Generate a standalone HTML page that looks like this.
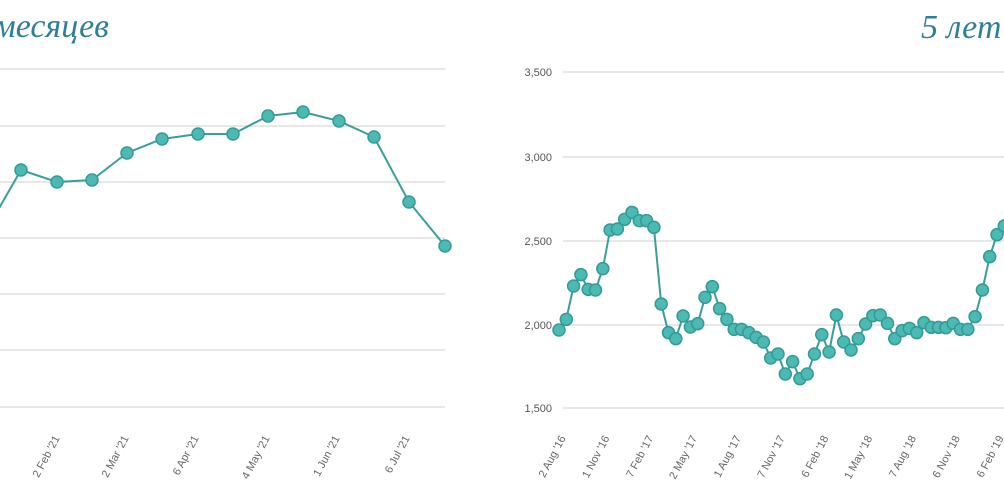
<!DOCTYPE html>
<html><head><meta charset="utf-8"><style>
html,body{margin:0;padding:0;background:#fff;width:1004px;height:502px;overflow:hidden}
svg{display:block}
.t{font-family:"Liberation Serif","DejaVu Serif",serif;font-style:italic;font-size:34px;fill:#2f7f96}
.yl{font-family:"Liberation Sans",sans-serif;font-size:11px;fill:#555;text-anchor:end}
.xl{font-family:"Liberation Sans",sans-serif;font-size:11px;fill:#666;text-anchor:end}
</style></head><body>
<svg id="s" width="1004" height="502" xmlns="http://www.w3.org/2000/svg">
<text class="t" x="-6" y="37">месяцев</text>
<text class="t" x="921" y="38">5 лет</text>
<g id="g"></g>
</svg>
<script>
const NS="http://www.w3.org/2000/svg",g=document.getElementById('g');
function el(n,a,txt){const e=document.createElementNS(NS,n);for(const k in a)e.setAttribute(k,a[k]);if(txt)e.textContent=txt;g.appendChild(e);return e;}
// left grid
[69,126,182,238,294,350,407].forEach(y=>el('line',{x1:0,x2:445,y1:y,y2:y,stroke:'#e8e8e8','stroke-width':2}));
// right grid
[[72,'3,500'],[157,'3,000'],[241,'2,500'],[325,'2,000'],[408,'1,500']].forEach(([y,l])=>{
 el('line',{x1:563,x2:1004,y1:y,y2:y,stroke:'#e8e8e8','stroke-width':2});
 el('text',{class:'yl',x:552,y:y+4},l);});
// left x labels
[[60,"2 Feb '21"],[129,"2 Mar '21"],[199,"6 Apr '21"],[270,"4 May '21"],[340,"1 Jun '21"],[410,"6 Jul '21"]].forEach(([x,l])=>
 el('text',{class:'xl',x:x,y:438,transform:`rotate(-62 ${x} 438)`},l));
["2 Aug '16","1 Nov '16","7 Feb '17","2 May '17","1 Aug '17","7 Nov '17","6 Feb '18","1 May '18","7 Aug '18","6 Nov '18","6 Feb '19"].forEach((l,i)=>{
 const x=566+i*43.8;el('text',{class:'xl',x:x,y:438,transform:`rotate(-62 ${x} 438)`},l);});
// left series
const L=[[21,170],[57,182],[92,180],[127,153],[162,139],[198,134],[233,134],[268,116],[303,112],[339,121],[374,137],[409,202],[445,246]];
el('polyline',{points:'-2,210 '+L.map(p=>p.join(',')).join(' '),fill:'none',stroke:'#3a9e9a','stroke-width':2});
L.forEach(p=>el('circle',{cx:p[0],cy:p[1],r:6,fill:'#4bbab4',stroke:'#359a95','stroke-width':1.5}));
// right series
const Z=[540,508,408,374,418,420,356,240,237,208,187,212,212,232,462,548,566,498,531,521,442,410,476,508,538,538,548,562,576,624,612,672,635,686,672,612,554,606,495,576,600,566,522,497,495,520,566,542,535,548,518,532,532,533,520,538,538,500,420,320,254,228,290,320];
const R=Z.map((z,i)=>[559+i*7.3,150+z/3]);
el('polyline',{points:R.map(p=>p.join(',')).join(' '),fill:'none',stroke:'#3a9e9a','stroke-width':2});
R.forEach(p=>el('circle',{cx:p[0],cy:p[1],r:6,fill:'#4bbab4',stroke:'#359a95','stroke-width':1.5}));
</script>
</body></html>
